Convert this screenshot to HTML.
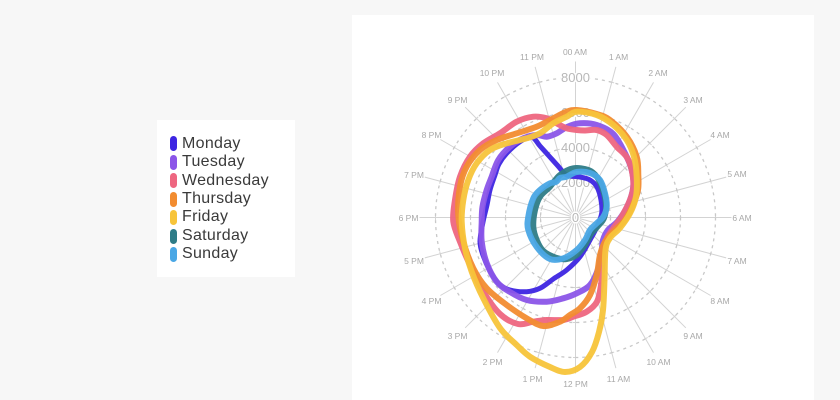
<!DOCTYPE html>
<html>
<head>
<meta charset="utf-8">
<style>
  html,body{margin:0;padding:0;}
  body{width:840px;height:400px;background:#f7f7f7;position:relative;overflow:hidden;font-family:"Liberation Sans",sans-serif;}
  .panel{position:absolute;left:352px;top:15px;width:462px;height:385px;background:#fff;}
  .legend{position:absolute;left:157px;top:120px;width:138px;height:157px;background:#fff;}
  .item{position:absolute;left:13px;height:18px;line-height:18px;font-size:16px;color:#3a3a3a;letter-spacing:0.3px;}
  .sw{position:absolute;left:0;top:1.5px;width:7px;height:15px;border-radius:3.5px;}
  .lbl{position:absolute;left:12px;top:0;white-space:nowrap;}
  svg{position:absolute;left:0;top:0;}
</style>
</head>
<body>
<div class="panel"></div>
<div class="legend">
  <div class="item" style="top:14.7px"><div class="sw" style="background:#3d25e2"></div><div class="lbl">Monday</div></div>
  <div class="item" style="top:33px"><div class="sw" style="background:#8b55e8"></div><div class="lbl">Tuesday</div></div>
  <div class="item" style="top:51.7px"><div class="sw" style="background:#ee6680"></div><div class="lbl">Wednesday</div></div>
  <div class="item" style="top:70px"><div class="sw" style="background:#f28c30"></div><div class="lbl">Thursday</div></div>
  <div class="item" style="top:88.3px"><div class="sw" style="background:#f7c43a"></div><div class="lbl">Friday</div></div>
  <div class="item" style="top:107px"><div class="sw" style="background:#2e7c87"></div><div class="lbl">Saturday</div></div>
  <div class="item" style="top:125px"><div class="sw" style="background:#4aa7e5"></div><div class="lbl">Sunday</div></div>
</div>
<svg id="chart" width="840" height="400" viewBox="0 0 840 400" xmlns="http://www.w3.org/2000/svg">
  <g id="spokes" stroke="#d3d3d3" stroke-width="1"></g>
  <g fill="none" stroke="#c8c8c8" stroke-width="1.3" stroke-dasharray="3 4">
    <circle cx="575.5" cy="217.5" r="35"/>
    <circle cx="575.5" cy="217.5" r="70"/>
    <circle cx="575.5" cy="217.5" r="105"/>
    <circle cx="575.5" cy="217.5" r="140"/>
  </g>
  <g font-family="Liberation Sans, sans-serif" font-size="13" fill="#b8b8b8" text-anchor="middle" dominant-baseline="central" stroke="#fff" stroke-width="3" paint-order="stroke">
    <text x="575.5" y="217.5">0</text>
    <text x="575.5" y="182.5">2000</text>
    <text x="575.5" y="147.5">4000</text>
    <text x="575.5" y="112.5">6000</text>
    <text x="575.5" y="77.5">8000</text>
  </g>
  <g font-family="Liberation Sans, sans-serif" font-size="8.5" fill="#a8a8a8" text-anchor="middle" dominant-baseline="central">
    <text x="575" y="52">00 AM</text>
    <text x="618.5" y="57">1 AM</text>
    <text x="658" y="73">2 AM</text>
    <text x="693" y="100">3 AM</text>
    <text x="720" y="135">4 AM</text>
    <text x="737" y="174">5 AM</text>
    <text x="742" y="218">6 AM</text>
    <text x="737" y="261">7 AM</text>
    <text x="720" y="301">8 AM</text>
    <text x="693" y="336">9 AM</text>
    <text x="658.5" y="362">10 AM</text>
    <text x="618.5" y="379">11 AM</text>
    <text x="575.5" y="384">12 PM</text>
    <text x="532.5" y="379">1 PM</text>
    <text x="492.5" y="362">2 PM</text>
    <text x="457.5" y="336">3 PM</text>
    <text x="431.5" y="301">4 PM</text>
    <text x="414" y="261">5 PM</text>
    <text x="408.5" y="218">6 PM</text>
    <text x="414" y="175">7 PM</text>
    <text x="431.5" y="135">8 PM</text>
    <text x="457.5" y="100">9 PM</text>
    <text x="492" y="73">10 PM</text>
    <text x="532" y="57">11 PM</text>
  </g>
  <g id="series" fill="none" stroke-width="6" stroke-linejoin="round" stroke-linecap="round"></g>
</svg>
<script>
(function(){
  var NS="http://www.w3.org/2000/svg";
  var cx=575.5, cy=217.5;
  var sp=document.getElementById("spokes");
  function ln(x1,y1,x2,y2){
    var l=document.createElementNS(NS,"line");
    l.setAttribute("x1",x1.toFixed(2));l.setAttribute("y1",y1.toFixed(2));
    l.setAttribute("x2",x2.toFixed(2));l.setAttribute("y2",y2.toFixed(2));
    sp.appendChild(l);
  }
  for(var h=0;h<24;h++){
    var a=h*Math.PI/12, r=156, s=Math.sin(a), c=Math.cos(a);
    ln(cx,cy,cx+r*s,cy-r*c);
    [35,70,105,140].forEach(function(rr){
      var px=cx+rr*s, py=cy-rr*c, t=2.5;
      ln(px-t*c,py-t*s,px+t*c,py+t*s);
    });
  }
  function path(p){
    var n=p.length, d="M"+p[0][0]+","+p[0][1];
    for(var i=0;i<n;i++){
      var p0=p[(i-1+n)%n],p1=p[i],p2=p[(i+1)%n],p3=p[(i+2)%n];
      var c1x=p1[0]+(p2[0]-p0[0])/6,c1y=p1[1]+(p2[1]-p0[1])/6;
      var c2x=p2[0]-(p3[0]-p1[0])/6,c2y=p2[1]-(p3[1]-p1[1])/6;
      d+="C"+c1x.toFixed(2)+","+c1y.toFixed(2)+" "+c2x.toFixed(2)+","+c2y.toFixed(2)+" "+p2[0]+","+p2[1];
    }
    return d+"Z";
  }
  var S=[
   ["#3d25e2",5,[[566.7,175],[580,177],[590,180],[597,187],[601,200],[601.7,213.3],[597,226.7],[590,240],[580,256.7],[566.7,270],[553.3,279],[540,288.3],[526.7,291.7],[510,290],[499,284],[490,271],[483.3,256],[480,241.7],[483,222],[487,205],[490,190],[495,175],[499,164],[506.7,153.3],[520,141.7],[531.7,137],[540,146],[549,156],[558,166]]],
   ["#8b55e8",6,[[580,123.3],[596.7,125],[613.3,134],[625,153.3],[631.7,170],[633.3,186.7],[628,205],[618,221],[608,230],[603,240],[601.7,250],[598.3,268.3],[590,285],[576.7,293.3],[563.3,298.3],[546.7,301.7],[526.7,300],[510,292],[496.7,281.7],[486.7,263],[481.7,241.7],[481.7,222],[482.5,206.7],[486.7,190],[491.7,176.7],[498.3,160],[510,146.7],[523.3,138.3],[536.7,135],[546.7,136.7],[556.7,133.3],[567,127]]],
   ["#ee6680",6,[[576.7,130],[585,130.5],[596.7,130],[606.7,135],[616.7,146.7],[626.7,157],[631.7,170],[633.3,186.7],[630,200],[622,216],[613.3,228.3],[607,238],[604,250],[602,270],[601,285],[597,301.7],[586.7,311.7],[573.3,316.7],[563.3,320],[546.7,320],[533.3,321.7],[518,324],[500,314],[483.3,291.7],[470,265],[460,241.7],[453.3,221.7],[455,200],[460,176.7],[470,156.7],[483.3,143.3],[500,133.3],[516.7,121.7],[533.3,116.7],[546.7,118.3],[556.7,123.3],[566.7,128.3]]],
   ["#f28c30",6,[[576.7,110],[596.7,114],[610,120],[626.7,136.7],[636.7,156.7],[638.3,175],[638,190],[633,205],[625,220],[613.3,231.7],[605,241.7],[600,255],[596.7,275],[590,295],[580,308.3],[570,315],[560,321.7],[543.3,326],[526.7,318.3],[506.7,305],[486.7,288.3],[473.3,268.3],[463.3,241.7],[458.3,215],[460,186.7],[466.7,166.7],[480,150],[496.7,140],[516.7,133.3],[536.7,126.7],[553.3,118.3],[566,112]]],
   ["#f7c43a",6,[[576.7,111.7],[596.7,115],[613.3,125],[626.7,140],[634,156.7],[636.7,176.7],[636,196.7],[630,213.3],[620,228],[610,238],[605.5,250],[604.5,280],[603,310],[599,332],[592,352],[580,367],[565,372],[550,367],[530,356.7],[516.7,345],[500,328],[483.3,298.3],[471.7,271.7],[465,248.3],[461.7,221.7],[463.3,200],[468.3,180],[476.7,163.3],[490,150],[506.7,143.3],[526.7,138.3],[540,133.3],[553.3,123.3],[566.7,116.7]]],
   ["#2e7c87",6,[[573.3,168.3],[588.3,170],[597,177],[603,190],[606,205],[604,218],[598,226],[591,234],[585,245],[576.7,255],[566.7,259],[556.7,258],[543.3,251],[536.7,240],[533.3,226.7],[535,210],[540,196.7],[550,186.7],[560,175]]],
   ["#4aa7e5",6,[[576.7,172],[590,173],[600,180],[605,193.3],[606.7,206.7],[603.3,216.7],[596.7,223.3],[590,230],[585,240],[576.7,250],[563.3,258.3],[550,259],[536.7,247],[528.3,230],[528.3,216.7],[533.3,198.3],[540,190],[550,183.3],[556,182],[560,178],[566.7,176.7]]]
  ];
  var g=document.getElementById("series");
  S.forEach(function(s){
    var e=document.createElementNS(NS,"path");
    e.setAttribute("d",path(s[2]));
    e.setAttribute("stroke",s[0]);
    e.setAttribute("stroke-width",s[1]);
    e.setAttribute("stroke-opacity","0.95");
    g.appendChild(e);
  });
})();
</script>
</body>
</html>
